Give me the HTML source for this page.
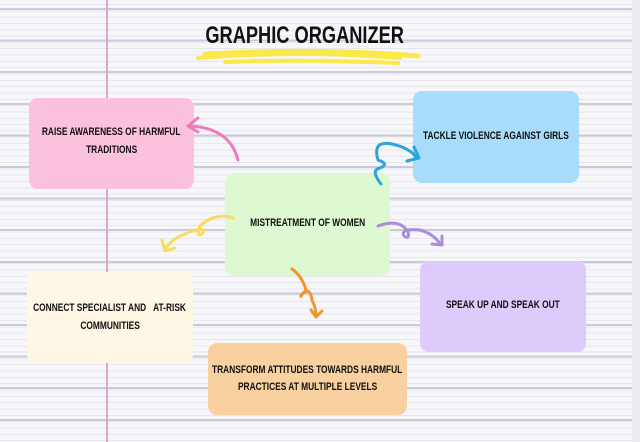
<!DOCTYPE html>
<html><head><style>
html,body{margin:0;padding:0}
body{width:640px;height:442px;position:relative;overflow:hidden;font-family:"Liberation Sans",sans-serif;font-weight:bold;
background-color:#f7f7fa;
background-image:
 repeating-linear-gradient(to bottom, transparent 0, transparent 8px, #c9cbdc 8px, #c9cbdc 10px, transparent 10px, transparent 31.6px),
 repeating-linear-gradient(to bottom, transparent 0, transparent 4px, #e6e7ee 4px, #e6e7ee 5px, transparent 5px, transparent 6.32px);}
.edge{position:absolute;left:632px;top:0;width:8px;height:442px;background:#ededf0}
.margin{position:absolute;left:106px;top:0;width:2px;height:442px;background:#d7a9cc}
.box{position:absolute;border-radius:9px;box-sizing:border-box}
.t{position:absolute;left:-100%;width:300%;text-align:center;white-space:nowrap;font-size:11px;color:#111;line-height:15px}
.t span{display:inline-block;transform:scaleX(0.76)}
h1{position:absolute;left:150px;top:22px;width:310px;margin:0;font-size:24px;line-height:28px;text-align:center;color:#111;white-space:nowrap}
h1 span{display:inline-block;transform:scaleX(0.76)}
</style></head><body>
<div class="margin"></div>
<div class="edge"></div>
<svg width="640" height="442" style="position:absolute;left:0;top:0">
 <path d="M205 54 Q320 48 418 56" stroke="#fbe84a" stroke-width="5" fill="none" stroke-linecap="round"/>
 <path d="M198 58 Q300 50 400 58" stroke="#fbe84a" stroke-width="4" fill="none" stroke-linecap="round"/>
 <path d="M225 62 Q300 59 398 63" stroke="#fbe84a" stroke-width="4" fill="none" stroke-linecap="round"/>
</svg>
<h1><span>GRAPHIC ORGANIZER</span></h1>
<div class="box" style="left:29px;top:98px;width:165px;height:91px;background:#fcc1dd"><div class="t" style="top:27px"><span>RAISE AWARENESS OF HARMFUL</span></div><div class="t" style="top:45px"><span>TRADITIONS</span></div></div>
<div class="box" style="left:413px;top:91px;width:166px;height:92px;background:#a7dcfb"><div class="t" style="top:38px"><span>TACKLE VIOLENCE AGAINST GIRLS</span></div></div>
<div class="box" style="left:225px;top:173px;width:165px;height:103px;background:#def8d2"><div class="t" style="top:43px"><span>MISTREATMENT OF WOMEN</span></div></div>
<div class="box" style="left:27px;top:272px;width:166px;height:91px;background:#fef7e6"><div class="t" style="top:29px"><span>CONNECT SPECIALIST AND &nbsp;&nbsp;AT-RISK</span></div><div class="t" style="top:47px"><span>COMMUNITIES</span></div></div>
<div class="box" style="left:420px;top:261px;width:166px;height:91px;background:#dccbfb"><div class="t" style="top:37px"><span>SPEAK UP AND SPEAK OUT</span></div></div>
<div class="box" style="left:208px;top:343px;width:199px;height:72px;background:#f9d0a0"><div class="t" style="top:20px"><span>TRANSFORM ATTITUDES TOWARDS HARMFUL</span></div><div class="t" style="top:37px"><span>PRACTICES AT MULTIPLE LEVELS</span></div></div>
<svg width="640" height="442" style="position:absolute;left:0;top:0" fill="none" stroke-linecap="round" stroke-linejoin="round">
 <g stroke="#f07bb9" stroke-width="3"><path d="M238 160 Q230 128 190 126"/><path d="M198 118 L188 126 L198 132"/></g>
 <g stroke="#2ba5db" stroke-width="3"><path d="M381 184 Q370 170 380 168 Q390 164 378 160 Q372 140 392 144 Q410 148 417 158"/><path d="M407 161 L419 158 L414 147"/></g>
 <g stroke="#f8dc5a" stroke-width="3"><path d="M233 218 Q215 212 200 226 Q196 238 202 234 Q208 226 190 232 Q172 238 166 248"/><path d="M162 240 L165 251 L175 248"/></g>
 <g stroke="#a88ed8" stroke-width="3"><path d="M378 226 Q400 218 408 232 Q410 240 404 236 Q400 228 420 230 Q434 234 440 244"/><path d="M432 244 L442 245 L442 236"/></g>
 <g stroke="#f0952f" stroke-width="3"><path d="M292 269 Q302 276 306 290 Q298 300 302 294 Q310 286 312 300 Q316 308 316 316"/><path d="M311 310 L316 317 L322 311"/></g>
</svg>
</body></html>
